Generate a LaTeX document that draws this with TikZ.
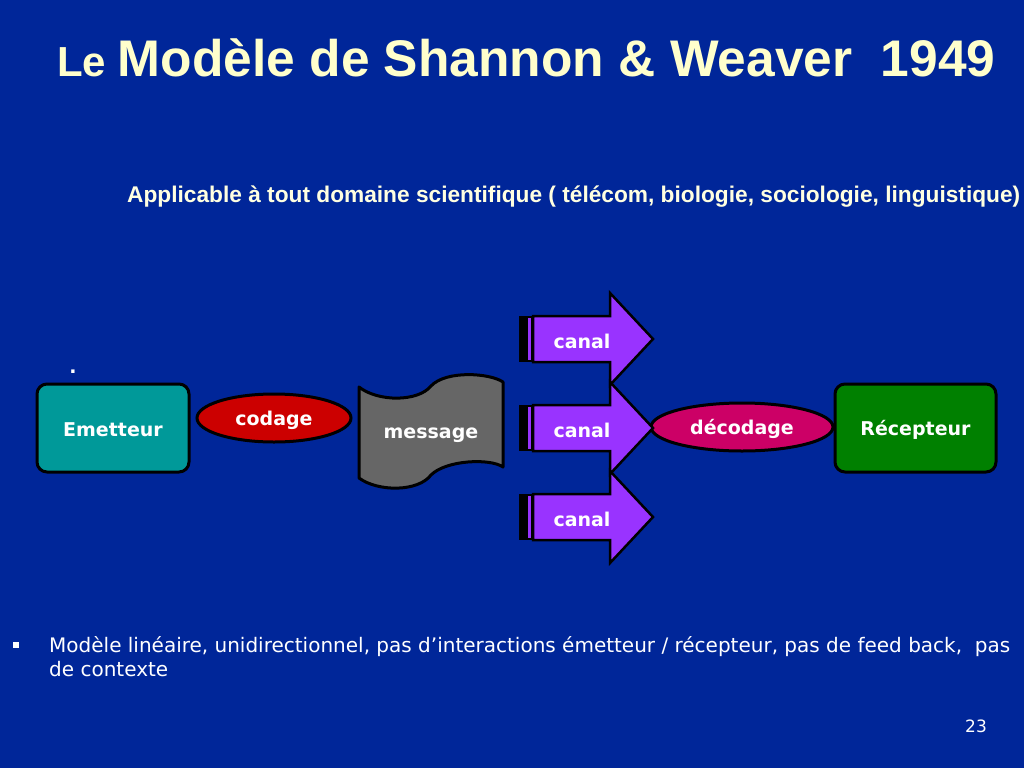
\documentclass[tikz,border=0pt]{standalone}
\usepackage{fontspec}
\setmainfont{DejaVu Sans}
\newfontfamily\arialfont{Liberation Sans}
\usetikzlibrary{shapes.geometric}
\definecolor{bgblue}{RGB}{0,38,153}
\definecolor{titlecol}{RGB}{255,255,204}
\definecolor{subcol}{RGB}{255,255,225}
\definecolor{tealbox}{RGB}{0,153,153}
\definecolor{redell}{RGB}{204,0,0}
\definecolor{graymsg}{RGB}{102,102,102}
\definecolor{purplearr}{RGB}{153,51,255}
\definecolor{magell}{RGB}{204,0,102}
\definecolor{greenbox}{RGB}{0,128,0}
\newcommand{\lowtxt}[1]{\raisebox{-2pt}[\height][\depth]{#1}}
\tikzset{
  lbl/.style={text=white, font=\bfseries\fontsize{19}{22}\selectfont, inner sep=0pt},
  roundbox/.style={lbl, draw=black, line width=3pt, rounded corners=10pt, minimum width=152pt, minimum height=88pt},
  ovalbox/.style={lbl, ellipse, draw=black, line width=3pt, inner sep=0pt},
  arrline/.style={draw=black, line width=2.5pt, line join=miter},
}
\begin{document}
\begin{tikzpicture}[x=1pt,y=-1pt]
\fill[bgblue] (0,0) rectangle (1024,768);
\useasboundingbox (0,0) rectangle (1024,768);

% title
\node[anchor=base west, inner sep=0pt, text=titlecol, font=\arialfont\bfseries] (title) at (57,76)
  {\fontsize{42}{46}\selectfont Le \fontsize{51.5}{56}\selectfont Modèle de Shannon \& Weaver\ \ 1949};
\node[anchor=base west, inner sep=0pt, text=subcol, font=\arialfont\bfseries\fontsize{22.7}{26}\selectfont] (sub) at (127,202)
  {Applicable à tout domaine scientifique ( télécom, biologie, sociologie, linguistique)};

% small dot
\node[lbl] (dot) at (73,372) {.};

% boxes
\node[roundbox, fill=tealbox, minimum width=152pt] (em) at (113,428) {\lowtxt{Emetteur}};
\node[roundbox, fill=greenbox, minimum width=161pt] (rec) at (915.5,428) {\lowtxt{Récepteur}};
\node[ovalbox, fill=redell, minimum width=154pt, minimum height=48pt] (cod) at (274,418) {\lowtxt{codage}};
\node[ovalbox, fill=magell, minimum width=182pt, minimum height=48pt] (dec) at (742,427) {\lowtxt{décodage}};

% message banner
\filldraw[fill=graymsg, draw=black, line width=3pt, line join=round]
  (359,387) .. controls (378,402) and (418,402) .. (431,386)
  .. controls (446,370) and (490,373) .. (503,382)
  -- (503,467)
  .. controls (490,458) and (446,460) .. (431,475)
  .. controls (418,492) and (378,492) .. (359,478) -- cycle;
\node[lbl] (msg) at (431,435) {message};

% canal arrows
\foreach \c/\nm in {339/canA,428/canB,517/canC}{
  \fill[black] (519,\c-23) rectangle (527,\c+23);
  \filldraw[fill=purplearr, draw=black, line width=1.5pt] (527,\c-22) rectangle (532,\c+22);
  \filldraw[fill=purplearr, arrline]
    (533,\c-23) -- (610,\c-23) -- (610,\c-46) -- (653,\c) -- (610,\c+46) -- (610,\c+23) -- (533,\c+23) -- cycle;
  \node[lbl] (\nm) at (582,\c+2) {canal};
}

% bullet text
\fill[white] (13,642) rectangle (19,648);
\node[anchor=base west, inner sep=0pt, text=white, align=left, font=\fontsize{20}{24}\selectfont] (bullet) at (49,676)
  {Modèle linéaire, unidirectionnel, pas d’interactions émetteur / récepteur, pas de feed back,\ \ pas\\de contexte};

% page number
\node[text=white, inner sep=0pt, font=\fontsize{17}{20}\selectfont] (pg) at (976,726) {23};
\end{tikzpicture}
\end{document}
